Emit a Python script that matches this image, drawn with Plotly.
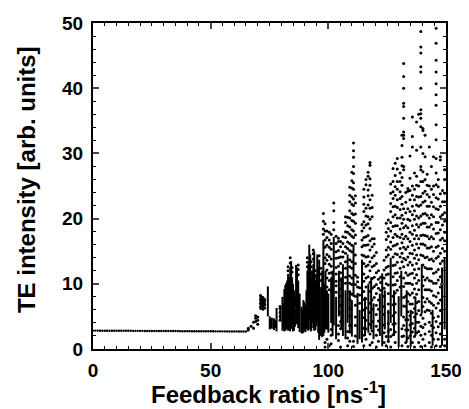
import plotly.graph_objects as go

# ---- steady-state branch (feedback ratio 0..65) ----
flat_x = list(range(0, 66))
flat_y = [2.82, 2.82, 2.82, 2.81, 2.81, 2.81, 2.81, 2.80, 2.80, 2.80, 2.80, 2.80, 2.79, 2.79, 2.79,
          2.79, 2.79, 2.78, 2.78, 2.78, 2.78, 2.78, 2.77, 2.77, 2.77, 2.77, 2.77, 2.76, 2.76, 2.76,
          2.76, 2.76, 2.75, 2.75, 2.75, 2.75, 2.75, 2.74, 2.74, 2.74, 2.74, 2.74, 2.73, 2.73, 2.73,
          2.73, 2.73, 2.72, 2.72, 2.72, 2.72, 2.72, 2.71, 2.71, 2.71, 2.71, 2.71, 2.70, 2.70, 2.70,
          2.70, 2.70, 2.69, 2.69, 2.69, 2.69]

# ---- dense vertical bands (feedback ratio, lower, upper intensity) ----
band_x = [71.2, 71.7, 72.2, 72.7, 73.0, 74.3, 75.1, 75.6, 76.0, 76.9, 77.4, 78.0, 79.6, 80.5, 80.9,
          81.3, 81.7, 82.1, 82.5, 82.9, 83.4, 83.8, 84.2, 84.6, 85.0, 85.4, 85.8, 86.3, 86.7,
          87.2, 87.8, 88.6, 89.0, 89.4, 89.8, 90.3, 90.7, 91.1, 91.5, 91.9, 92.3, 92.7, 93.1,
          93.6, 94.0, 94.5, 94.9, 95.3, 95.7, 96.1, 96.9, 97.4, 97.9, 98.3, 98.8, 99.4, 100.0,
          101.2, 101.8, 102.3, 103.3, 104.5, 105.5, 106.2, 107.3, 108.2, 109.1, 110.0, 110.7,
          112.4, 113.3, 114.3, 115.6, 117.0, 118.2, 119.2, 121.9, 122.9, 124.0, 125.5, 126.5,
          127.9, 129.9, 131.0, 133.3, 135.0, 137.0, 139.7, 144.3, 148.3, 149.4]
band_lo = [6.0, 6.3, 6.2, 6.5, 6.6, 5.0, 3.0, 3.3, 3.1, 2.9, 3.2, 2.7, 4.4, 2.8, 3.0,
           2.7, 2.8, 3.0, 3.2, 2.8, 2.9, 2.7, 3.1, 3.5, 2.7, 2.8, 3.4, 6.5, 4.0,
           3.2, 2.6, 2.4, 2.4, 2.5, 2.8, 2.6, 3.1, 3.0, 2.8, 4.5, 3.0, 2.7, 4.0,
           3.2, 2.8, 2.9, 3.5, 4.0, 2.5, 1.4, 2.0, 1.8, 2.0, 2.5, 3.0, 3.0, 2.5,
           4.0, 2.0, 3.6, 1.5, 5.0, 3.0, 2.0, 1.5, 4.0, 2.5, 1.9, 8.0,
           0.8, 1.5, 1.0, 2.0, 2.5, 3.0, 1.5, 2.0, 0.4, 3.0, 1.0, 4.0,
           2.0, 0.3, 5.0, 1.0, 0.3, 2.0, 5.4, 0.5, 0.5, 3.0]
band_hi = [8.3, 8.1, 8.0, 7.7, 7.8, 9.6, 5.0, 4.6, 4.8, 4.7, 4.4, 6.3, 6.5, 8.0, 7.0,
           9.2, 9.8, 10.1, 10.5, 11.5, 11.0, 12.5, 13.5, 11.0, 10.0, 9.0, 8.0, 12.9, 12.5,
           10.5, 8.5, 6.5, 6.0, 7.5, 7.2, 6.8, 9.0, 12.0, 13.0, 16.0, 14.5, 11.0, 12.0,
           13.0, 15.0, 10.5, 11.5, 14.5, 12.5, 13.7, 9.5, 12.0, 16.7, 10.0, 12.0, 9.0, 8.5,
           11.0, 12.0, 17.2, 8.0, 12.0, 11.0, 13.0, 9.0, 14.5, 9.0, 7.5, 16.0,
           8.6, 6.0, 13.7, 8.0, 10.0, 11.0, 7.0, 8.5, 11.6, 9.0, 6.0, 14.0,
           9.0, 8.1, 12.0, 9.0, 6.0, 8.0, 13.0, 6.0, 12.5, 14.0]

# ---- scattered maxima, column by column ----
col_x = [66.0, 67.2, 68.2, 69.1, 70.0, 71.2, 72.2, 73.0, 79.5, 82.9, 83.8, 84.6, 86.3, 87.2,
         91.1, 92.7, 93.6, 94.5, 96.1, 96.9, 97.9, 98.6, 99.4, 100.4, 101.2, 102.3, 103.3,
         104.3, 105.2, 106.2, 107.3, 108.2, 109.1, 110.0, 110.7, 111.5, 112.4, 113.3, 114.3,
         115.1, 116.0, 116.9, 117.7, 118.6, 119.5, 120.4, 121.3, 122.2, 123.7, 124.6, 125.5,
         126.5, 127.5, 128.4, 129.3, 130.5, 131.3, 132.0, 132.9, 133.8, 134.7, 135.7, 136.6,
         137.5, 138.4, 139.3, 140.2, 141.1, 142.0, 142.9, 143.8, 144.7, 145.8, 146.7, 147.6,
         148.5, 149.4]
col_y = [
    [2.9, 3.2],
    [3.5],
    [3.2, 4.1],
    [4.2, 4.7, 5.1],
    [3.8, 4.4, 4.9],
    [6.4, 7.0, 7.6, 8.2],
    [6.1, 6.7, 7.3, 7.9],
    [6.3, 6.8, 7.5],
    [4.4, 5.0, 5.6, 6.2, 6.5],
    [12.0, 12.6],
    [13.2, 14.0],
    [11.8, 12.5],
    [4.0, 4.6, 5.2, 5.8],
    [11.4, 12.2, 12.9],
    [12.6, 13.3, 14.0],
    [11.8, 12.6, 13.4],
    [13.8, 14.6, 15.2],
    [11.2, 12.0],
    [14.3],
    [10.5, 11.5, 12.4],
    [17.6, 18.4, 19.6, 20.8],
    [0.3, 1.0, 13.1, 14.0, 15.6, 16.7, 18.1, 19.2],
    [1.5, 3.4, 4.5, 6.1, 7.0, 8.4, 9.5, 10.9, 12.1, 13.6, 14.5, 15.9, 17.1, 18.1],
    [0.5, 9.1, 10.5, 11.6, 13.0, 14.2, 15.6, 16.7, 17.9],
    [0.8, 2.1, 3.0, 11.7, 12.7, 13.8, 15.3, 16.2, 17.6],
    [18.3, 19.4, 21.2, 22.4],
    [8.7, 9.7, 10.4, 11.5, 12.5, 13.9, 14.9, 16.2, 17.3],
    [1.3, 2.3, 3.6, 12.7, 14.0, 15.1, 16.5, 17.0],
    [0.3, 3.1, 4.2, 5.6, 6.7, 8.1, 9.2, 10.6, 11.7, 13.1, 14.1, 15.7, 16.5],
    [14.1, 14.9, 16.2, 17.2],
    [10.1, 11.0, 12.4, 13.4, 14.7, 15.7, 17.1, 18.0, 19.4, 20.3],
    [0.5, 1.7, 2.7, 15.4, 16.4, 17.9, 18.9, 20.2],
    [1.2, 2.6, 3.6, 5.1, 6.2, 7.6, 8.7, 10.1, 11.2, 12.6, 13.7, 15.1, 16.2, 17.6, 18.7,
     20.1, 21.2, 22.6, 23.6, 24.8],
    [8.4, 9.9, 10.9, 12.4, 13.4, 14.9, 15.9, 17.3, 18.3, 19.7, 20.8, 22.2, 23.3, 24.7,
     25.8, 27.1],
    [0.4, 1.2, 17.1, 18.1, 19.6, 20.6, 22.0, 23.0, 24.5, 25.5, 26.9, 28.0, 29.4, 30.4, 31.6],
    [2.0, 3.6, 4.9, 6.7, 8.1, 9.9, 11.3, 13.1, 14.4, 16.2, 17.5, 19.3, 20.7, 22.4, 23.5],
    [9.5, 10.3, 11.0],
    [7.0, 8.3, 9.4],
    [14.4, 15.7, 16.7, 18.1, 19.1],
    [0.5, 2.1, 3.2, 4.8, 6.0, 7.6, 8.8, 10.4, 11.5, 13.1, 14.3, 15.9, 17.1, 18.6, 19.5,
     21.1, 22.2, 23.3, 24.5],
    [1.5, 3.1, 4.4, 6.3, 7.7, 9.5, 10.9, 12.7, 14.1, 15.9, 17.2, 19.0, 20.4, 21.6, 25.2, 26.0],
    [11.1, 12.9, 14.2, 16.0, 17.4, 19.2, 20.3, 22.1, 23.5, 24.4, 26.5, 27.1],
    [0.6, 2.3, 3.8, 5.6, 7.0, 8.8, 10.2, 12.0, 13.4, 15.2, 16.6, 18.5, 19.9, 21.6, 22.9,
     25.1, 26.1, 28.2, 28.6],
    [1.0, 2.8, 4.2, 6.1, 7.5, 9.3, 10.8, 12.6, 14.0, 15.7, 16.9, 20.3, 21.7, 23.6],
    [7.9, 9.6, 11.0, 12.8, 14.3, 16.1, 16.9],
    [0.3, 2.1, 3.5, 5.3, 6.7, 8.5, 9.9, 11.7, 13.1, 14.8],
    [1.2, 2.9, 4.3, 6.1, 7.5, 9.3, 10.7, 12.0],
    [9.0, 10.2, 11.0],
    [1.0, 2.5, 3.7, 5.3, 6.5, 8.1, 9.3, 10.9, 12.1, 13.6],
    [0.5, 1.9, 10.0, 11.4, 12.5, 14.1, 15.2, 16.8, 17.9, 19.3],
    [1.2, 2.7, 3.9, 5.6, 6.9, 8.5, 9.8, 11.5, 12.7, 14.4, 15.6, 17.3, 18.5, 19.8],
    [0.3, 1.9, 3.0, 15.3, 16.4, 18.1, 19.4, 21.1, 22.3, 23.9, 25.3],
    [2.2, 3.8, 5.1, 6.8, 8.1, 9.8, 11.1, 12.8, 14.1, 15.8, 17.1, 18.8, 20.3, 21.8, 23.1,
     24.1, 25.7, 27.7],
    [1.0, 2.6, 3.9, 5.6, 6.9, 8.6, 9.9, 11.6, 12.9, 14.6, 15.9, 17.6, 18.9, 20.6, 21.9,
     23.6, 24.9, 26.6, 28.5],
    [9.0, 10.5, 11.7, 13.3, 14.5, 16.1, 17.3, 18.9, 20.1, 21.7, 22.9, 24.5, 25.7, 27.6, 29.2],
    [9.5, 11.1, 12.4, 14.1, 15.4, 17.1, 18.4, 20.1, 21.4, 23.1, 24.1, 25.7, 27.0],
    [0.5, 1.9, 3.1, 13.4, 14.7, 16.3, 17.6, 19.3, 20.5, 22.2, 23.4, 25.1, 26.3, 28.1, 29.4,
     31.2, 32.8],
    [2.0, 3.6, 4.9, 6.6, 7.9, 9.6, 10.9, 12.6, 13.9, 15.6, 16.9, 18.6, 19.9, 21.5, 27.5,
     28.0, 32.3, 32.8, 33.3, 35.4, 37.2, 37.7, 40.0, 41.8, 43.8],
    [1.0, 2.9, 4.5, 6.5, 8.1, 10.1, 11.7, 13.7, 15.3, 17.3, 18.9, 20.9, 22.5, 24.0],
    [0.4, 1.7, 2.9, 4.5, 5.7, 7.3, 8.5, 10.1, 11.3, 12.9, 14.1, 15.7, 16.9, 18.6, 19.9,
     21.5, 24.2, 24.6],
    [2.0, 3.7, 5.1, 6.9, 8.3, 10.1, 11.5, 13.3, 14.7, 16.5, 17.9, 19.7, 21.1, 22.9, 24.3,
     26.2, 29.6],
    [1.0, 2.6, 3.9, 5.6, 6.9, 8.6, 9.9, 11.6, 12.9, 14.6, 15.9, 17.6, 18.9, 20.6, 21.9,
     23.6, 25.0, 31.0, 32.6, 35.6],
    [0.3, 1.9, 3.2, 4.9, 6.2, 7.9, 9.2, 10.9, 12.2, 13.9, 15.2, 16.9, 18.2, 19.9, 21.2,
     22.9, 24.5, 27.0],
    [2.5, 4.1, 5.4, 7.1, 8.4, 10.1, 11.4, 13.1, 14.4, 16.1, 17.4, 19.1, 20.4, 22.1, 23.4,
     25.1, 26.5, 30.5, 34.8],
    [1.0, 2.7, 4.1, 5.9, 7.3, 9.1, 10.5, 12.3, 13.7, 15.5, 16.9, 18.7, 20.1, 21.9, 23.3,
     25.0, 36.0],
    [0.4, 2.1, 3.5, 5.2, 14.4, 16.1, 17.4, 19.1, 20.4, 22.1, 23.4, 25.7, 27.5, 28.0, 31.0,
     34.1, 35.4, 36.1, 36.7, 40.0, 42.5, 43.3, 45.4, 46.3, 48.7],
    [1.5, 3.3, 4.7, 6.5, 7.9, 9.7, 11.1, 12.9, 14.3, 16.1, 17.5, 19.3, 20.7, 22.5, 23.9,
     25.7, 27.2, 30.0, 33.5, 33.8],
    [0.5, 2.3, 3.8, 5.7, 7.2, 9.1, 10.6, 12.5, 14.0, 15.9, 17.4, 19.3, 20.8, 22.7, 24.2,
     26.0, 29.5, 32.8],
    [6.0, 7.7, 9.1, 10.9, 12.3, 14.1, 15.5, 17.3, 18.7, 20.5, 21.9, 23.7, 25.1, 26.8],
    [1.0, 2.7, 4.1, 5.9, 7.3, 9.1, 10.5, 12.3, 13.7, 15.5, 16.9, 18.7, 20.1, 21.9, 23.3,
     25.0, 31.0],
    [0.3, 2.1, 3.6, 5.5, 7.0, 8.9, 10.4, 12.3, 13.8, 15.7, 17.2, 19.1, 20.6, 22.5, 24.5, 28.0],
    [1.5, 3.3, 4.8, 6.7, 8.2, 10.1, 11.6, 13.5, 15.0, 16.9, 18.4, 20.3, 21.8, 23.7, 25.0, 29.5],
    [0.5, 2.5, 4.2, 6.3, 8.0, 10.1, 11.8, 13.9, 15.6, 17.7, 19.4, 21.5, 23.2, 25.2, 27.0,
     29.2, 32.1, 34.4, 37.4, 39.0, 40.7, 42.5, 44.3, 46.9, 49.2],
    [1.5, 3.4, 5.0, 7.0, 8.6, 10.6, 12.2, 14.2, 15.8, 17.8, 19.4, 21.4, 23.0, 24.9, 26.0],
    [0.4, 2.3, 3.9, 5.9, 7.5, 9.5, 11.1, 13.1, 14.7, 16.7, 18.3, 20.3, 21.9, 23.8, 29.0, 29.5],
    [13.5, 15.4, 17.0, 19.0, 20.6, 22.6, 24.3],
    [0.5, 1.5, 15.0, 16.6, 17.9, 19.6, 20.9, 22.6, 23.9, 26.0, 27.5],
]

# tick labels
x_ticks = [0, 50, 100, 150]
y_ticks = [0, 10, 20, 30, 40, 50]

# build flat arrays for the traces
dot_x, dot_y = [], []
for xv, ys in zip(col_x, col_y):
    for yv in ys:
        dot_x.append(xv)
        dot_y.append(yv)

seg_x, seg_y = [], []
for xv, lo, hi in zip(band_x, band_lo, band_hi):
    seg_x += [xv, xv, None]
    seg_y += [lo, hi, None]

fig = go.Figure()
fig.add_trace(go.Scatter(x=flat_x, y=flat_y, mode="markers",
                         marker=dict(color="black", size=2.4), showlegend=False))
fig.add_trace(go.Scatter(x=seg_x, y=seg_y, mode="lines",
                         line=dict(color="black", width=2), showlegend=False))
fig.add_trace(go.Scatter(x=dot_x, y=dot_y, mode="markers",
                         marker=dict(color="black", size=3), showlegend=False))

F = "Liberation Sans, Arial, sans-serif"
# the page body adds an 8 px offset, so margins are reduced accordingly
fig.update_layout(
    width=469, height=409,
    margin=dict(l=85, r=31, t=15, b=68, autoexpand=False),
    paper_bgcolor="white", plot_bgcolor="white",
    font=dict(family=F, color="black"),
    annotations=[
        dict(text="Feedback ratio [ns<sup>-1</sup>]", xref="paper", yref="paper",
             x=0.496, y=-0.082, xanchor="center", yanchor="top", showarrow=False,
             font=dict(size=24, family=F, weight="bold", color="black")),
        dict(text="TE intensity [arb. units]", xref="paper", yref="paper",
             x=-0.19, y=0.521, xanchor="center", yanchor="middle", textangle=-90,
             showarrow=False, font=dict(size=24, family=F, weight="bold", color="black")),
    ],
)
fig.update_xaxes(
    range=[0, 150], tickvals=x_ticks, ticks="inside", ticklen=6, tickwidth=1.5,
    minor=dict(dtick=5, ticks="inside", ticklen=3, tickwidth=1, tickcolor="black"),
    showline=True, linecolor="black", linewidth=2, mirror="ticks", showgrid=False, zeroline=False,
    tickfont=dict(size=19, family=F, weight="bold"), automargin=False, ticklabelstandoff=3,
)
fig.update_yaxes(
    range=[0, 50], tickvals=y_ticks, ticks="inside", ticklen=6, tickwidth=1.5,
    minor=dict(dtick=2, ticks="inside", ticklen=3, tickwidth=1, tickcolor="black"),
    showline=True, linecolor="black", linewidth=2, mirror="ticks", showgrid=False, zeroline=False,
    tickfont=dict(size=19, family=F, weight="bold"), automargin=False, ticklabelstandoff=4,
)
fig.write_html("out.html")
